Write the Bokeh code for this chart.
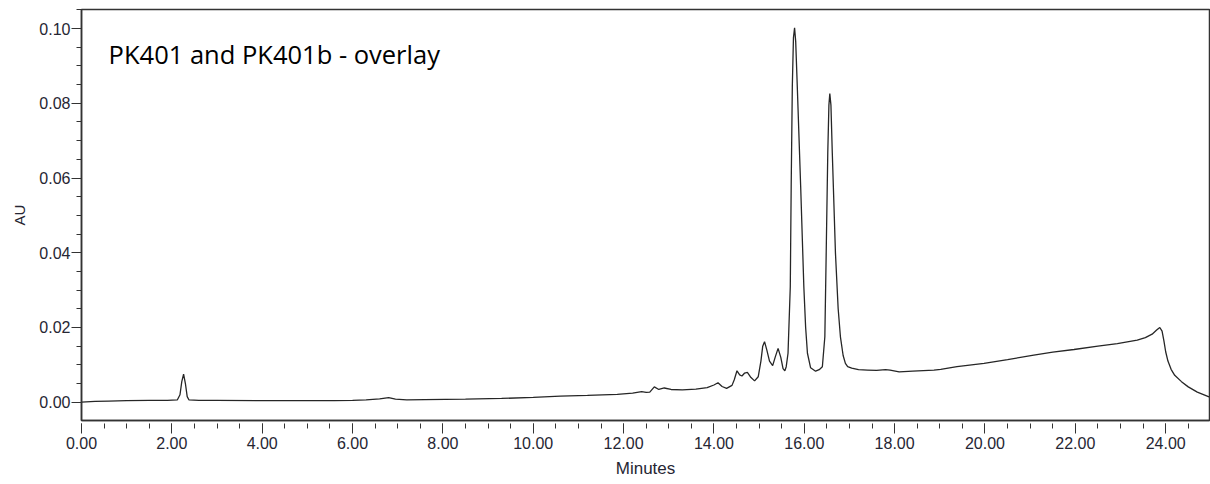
from bokeh.plotting import figure
from bokeh.models import Range1d, SingleIntervalTicker, NumeralTickFormatter, Label, ColumnDataSource
from bokeh.embed import file_html
from bokeh.resources import INLINE

# ---- data ----
title_text = "PK401 and PK401b - overlay"
x_label = "Minutes"
y_label = "AU"

minutes = [
    0.00, 0.30, 0.60, 1.00, 1.50, 1.90, 2.12, 2.18, 2.22, 2.26, 2.30, 2.34, 2.38,
    2.60, 3.00, 4.00, 5.00, 5.60, 6.00, 6.30, 6.60, 6.80, 6.95, 7.20, 7.60, 8.50,
    9.30, 10.00, 10.60, 11.20, 11.86, 12.20, 12.40, 12.50, 12.58, 12.68, 12.78,
    12.90, 13.05, 13.30, 13.60, 13.85, 14.00, 14.09, 14.18, 14.28, 14.40, 14.45,
    14.51, 14.57, 14.62, 14.68, 14.74, 14.82, 14.90, 14.98, 15.04, 15.08, 15.12,
    15.17, 15.23, 15.30, 15.36, 15.42, 15.48, 15.53, 15.57, 15.60, 15.64, 15.69,
    15.71, 15.735, 15.76, 15.785, 15.81, 15.845, 15.92, 15.99, 16.03, 16.07,
    16.14, 16.25, 16.33, 16.40, 16.455, 16.485, 16.52, 16.545, 16.565, 16.59,
    16.62, 16.69, 16.75, 16.80, 16.86, 16.91, 16.96, 17.05, 17.20, 17.40, 17.60,
    17.80, 17.90, 18.10, 18.40, 18.87, 19.02, 19.38, 19.98, 20.50, 21.08, 21.50,
    21.97, 22.50, 22.93, 23.37, 23.55, 23.70, 23.80, 23.87, 23.92, 23.96, 24.00,
    24.05, 24.12, 24.20, 24.35, 24.50, 24.70, 24.96,
]
au = [
    0.0000, 0.0002, 0.0003, 0.0004, 0.0005, 0.0005, 0.0006, 0.0020, 0.0055, 0.0075, 0.0050, 0.0015, 0.0006,
    0.0005, 0.0005, 0.0004, 0.0004, 0.0004, 0.0005, 0.0006, 0.0009, 0.0012, 0.0008, 0.0006, 0.0007, 0.0008,
    0.0010, 0.0013, 0.0016, 0.0018, 0.0021, 0.0024, 0.0028, 0.0026, 0.0027, 0.0041, 0.0034,
    0.0038, 0.0034, 0.0033, 0.0035, 0.0039, 0.0046, 0.0052, 0.0042, 0.0037, 0.0045, 0.0060,
    0.0084, 0.0073, 0.0070, 0.0078, 0.0080, 0.0066, 0.0057, 0.0068, 0.0110, 0.0150, 0.0162,
    0.0140, 0.0110, 0.0098, 0.0122, 0.0144, 0.0120, 0.0090, 0.0084, 0.0095, 0.0131, 0.0309,
    0.0577, 0.0845, 0.0975, 0.1002, 0.0965, 0.0845, 0.0577, 0.0309, 0.0200, 0.0131,
    0.0092, 0.0083, 0.0087, 0.0095, 0.0175, 0.0399, 0.0667, 0.0795, 0.0826, 0.0795,
    0.0667, 0.0399, 0.0250, 0.0175, 0.0125, 0.0104, 0.0095, 0.0091, 0.0087, 0.0086, 0.0085,
    0.0087, 0.0086, 0.0081, 0.0083, 0.0086, 0.0088, 0.0095, 0.0104, 0.0114, 0.0126, 0.0134,
    0.0141, 0.0150, 0.0157, 0.0166, 0.0173, 0.0182, 0.0193, 0.0200, 0.0190, 0.0165, 0.0135,
    0.0110, 0.0088, 0.0072, 0.0055, 0.0041, 0.0027, 0.0014,
]

src = ColumnDataSource(data=dict(minutes=minutes, au=au))

p = figure(width=1210, height=484, output_backend="svg", toolbar_location=None,
           x_range=Range1d(0, 24.97), y_range=Range1d(-0.0049, 0.1051),
           min_border_left=81, min_border_right=1, min_border_top=9, min_border_bottom=64,
           background_fill_color="white", border_fill_color="white")

p.line("minutes", "au", source=src, line_color="#262626", line_width=1.3)

p.xgrid.visible = False
p.ygrid.visible = False
p.outline_line_color = "#333333"
p.outline_line_width = 1.5

p.xaxis.ticker = SingleIntervalTicker(interval=2, num_minor_ticks=4)
p.yaxis.ticker = SingleIntervalTicker(interval=0.02, num_minor_ticks=4)
p.xaxis.formatter = NumeralTickFormatter(format="0.00")
p.yaxis.formatter = NumeralTickFormatter(format="0.00")

for ax in (p.xaxis, p.yaxis):
    ax.axis_line_color = "#333333"
    ax.axis_line_width = 1.5
    ax.major_tick_line_color = "#333333"
    ax.minor_tick_line_color = "#333333"
    ax.major_label_text_font = "Liberation Sans"
    ax.major_label_text_font_size = "16px"
    ax.major_label_text_color = "#262633"
    ax.axis_label_text_font = "Liberation Sans"
    ax.axis_label_text_font_style = "normal"
    ax.axis_label_text_color = "#262633"

p.xaxis.major_tick_in = -3
p.xaxis.major_tick_out = 13
p.xaxis.minor_tick_in = -3
p.xaxis.minor_tick_out = 8
p.xaxis.major_label_standoff = 3
p.xaxis.axis_label = x_label
p.xaxis.axis_label_text_font_size = "17px"
p.xaxis.axis_label_standoff = 7

p.yaxis.major_tick_in = 0
p.yaxis.major_tick_out = 10
p.yaxis.minor_tick_in = 0
p.yaxis.minor_tick_out = 5
p.yaxis.major_label_standoff = 1
p.yaxis.axis_label = y_label
p.yaxis.axis_label_text_font_size = "15px"
p.yaxis.axis_label_standoff = 8

p.add_layout(Label(x=0.6, y=0.0933, text=title_text, text_font="Open Sans",
                   text_font_size="25.5px", text_baseline="alphabetic", text_color="black"))

open("out.html", "w").write(file_html(p, INLINE))
